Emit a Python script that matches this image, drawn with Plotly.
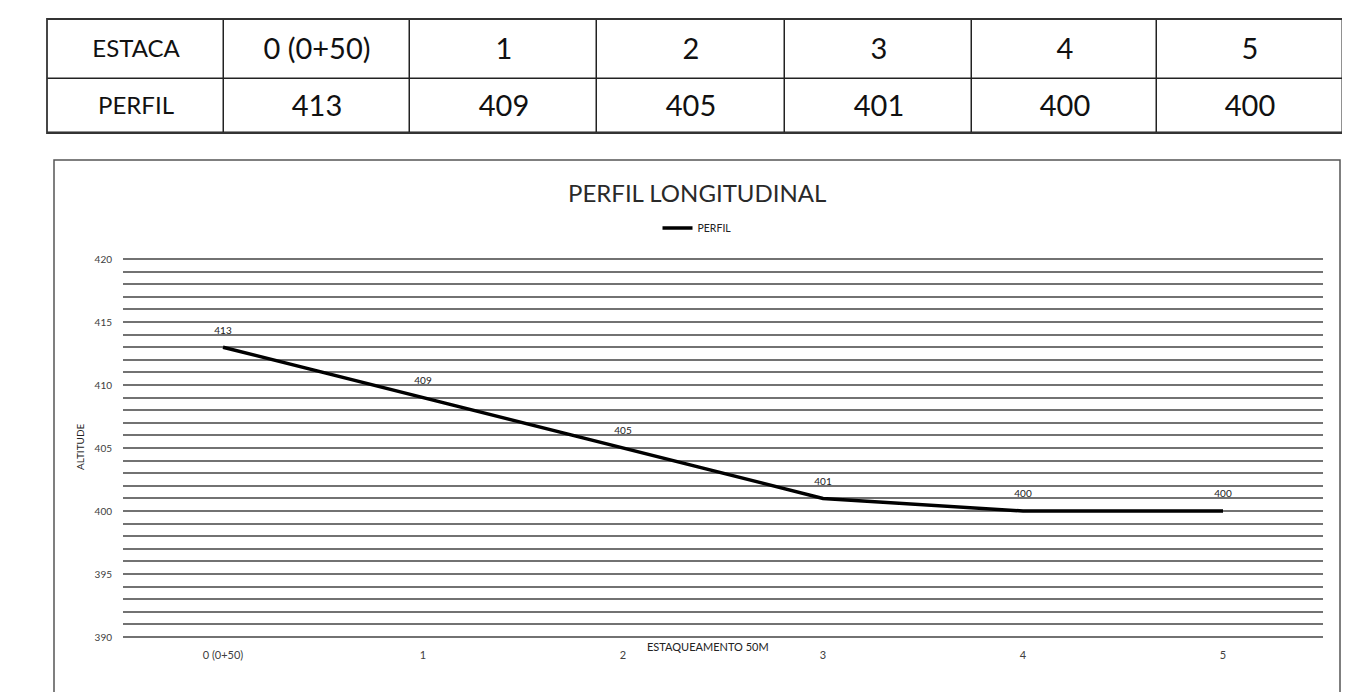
import plotly.graph_objects as go
import numpy as np

# ---- data ----
row_labels = ["ESTACA", "PERFIL"]
estacas = ["0 (0+50)", "1", "2", "3", "4", "5"]
perfil = [413, 409, 405, 401, 400, 400]
y_ticks = [390, 395, 400, 405, 410, 415, 420]

# ---- styling ----
col_widths = [177, 186, 187, 188, 187, 185, 186]
row_heights = [54, 60]  # bottom row (PERFIL), top row (ESTACA)

OFF = 8  # page body margin
W, H = 1350 - OFF, 692 - OFF
def px(x): return (x - OFF) / W
def py(y): return 1 - (y - OFF) / H

FONT = "Lato, Open Sans, sans-serif"

fig = go.Figure()

# ---- table built as heatmap cells ----
x_edges = np.concatenate([[0], np.cumsum(col_widths)])
y_edges = np.concatenate([[0], np.cumsum(row_heights)])

fig.add_trace(go.Heatmap(
    x=x_edges[:2], y=y_edges,
    z=[[0], [0]], text=[[row_labels[1]], [row_labels[0]]],
    texttemplate="%{text}", textfont=dict(size=24, color="#111111", family=FONT),
    colorscale=[[0, "white"], [1, "white"]], showscale=False,
    xgap=1.5, ygap=1.5, hoverinfo="skip",
    xaxis="x2", yaxis="y2",
))
fig.add_trace(go.Heatmap(
    x=x_edges[1:], y=y_edges,
    z=[[0] * len(estacas), [0] * len(estacas)],
    text=[[str(v) for v in perfil], estacas],
    texttemplate="%{text}", textfont=dict(size=29, color="#111111", family=FONT),
    colorscale=[[0, "white"], [1, "white"]], showscale=False,
    xgap=1.5, ygap=1.5, hoverinfo="skip",
    xaxis="x2", yaxis="y2",
))

# ---- profile line ----
xi = list(range(len(estacas)))
fig.add_trace(go.Scatter(
    x=xi, y=perfil, mode="lines+markers+text", name="PERFIL",
    line=dict(color="black", width=3.5),
    marker=dict(size=16, color="rgba(0,0,0,0)"),
    text=[str(v) for v in perfil], textposition="top center",
    textfont=dict(size=10, color="#222222", family=FONT),
    cliponaxis=False,
))

YR = [389.9, 420.1]
y_top_px = 259 - 0.1 * 12.6
y_bot_px = 637 + 0.1 * 12.6

fig.update_layout(
    width=W, height=H,
    margin=dict(l=0, r=0, t=0, b=0, pad=0, autoexpand=False),
    paper_bgcolor="white", plot_bgcolor="white",
    font=dict(family=FONT, color="#404040"),
    showlegend=True,
    legend=dict(x=px(697), y=py(228), xanchor="center", yanchor="middle",
                orientation="h", font=dict(size=10.5, color="#222222"),
                bgcolor="rgba(0,0,0,0)", itemwidth=30),
    xaxis=dict(domain=[px(123), px(1323)], range=[-0.5, 5.5], automargin=False,
               tickvals=xi, ticktext=estacas,
               showgrid=False, zeroline=False, showline=False,
               ticks="outside", ticklen=7, tickcolor="rgba(0,0,0,0)",
               tickfont=dict(size=11, color="#404040")),
    yaxis=dict(domain=[py(y_bot_px), py(y_top_px)], range=YR, automargin=False,
               tickvals=y_ticks, showgrid=True, gridcolor="#727272", gridwidth=1.7,
               zeroline=False, showline=False,
               ticks="outside", ticklen=8, tickcolor="rgba(0,0,0,0)",
               tickfont=dict(size=10, color="#404040"),
               minor=dict(dtick=1, tick0=390, showgrid=True, gridcolor="#727272", gridwidth=1.7)),
    xaxis2=dict(domain=[px(47), px(1343)], range=[0, x_edges[-1]], automargin=False,
                visible=False, fixedrange=True),
    yaxis2=dict(domain=[py(133), py(19)], range=[0, y_edges[-1]], automargin=False,
                visible=False, fixedrange=True),
    shapes=[
        dict(type="rect", xref="x2 domain", yref="y2 domain", x0=0, x1=1, y0=0, y1=1,
             fillcolor="#222222", line=dict(width=0), layer="below"),
        dict(type="rect", xref="x2 domain", yref="y2 domain", x0=0, x1=1, y0=0, y1=1,
             fillcolor="rgba(0,0,0,0)", line=dict(color="#333333", width=1.8), layer="above"),
        dict(type="rect", xref="paper", yref="paper",
             x0=px(54), x1=px(1340), y0=py(705), y1=py(160),
             line=dict(color="#555555", width=1.5), fillcolor="rgba(0,0,0,0)", layer="below"),
    ],
    annotations=[
        dict(text="PERFIL LONGITUDINAL", x=px(697), y=py(192), xref="paper", yref="paper",
             xanchor="center", yanchor="middle",
             showarrow=False, font=dict(size=24, color="#2a2a2a", family=FONT)),
        dict(text="ALTITUDE", x=px(80), y=py(447), xref="paper", yref="paper",
             xanchor="center", yanchor="middle",
             textangle=-90, showarrow=False, font=dict(size=10, color="#222222")),
        dict(text="ESTAQUEAMENTO 50M", x=px(708), y=py(646), xref="paper", yref="paper",
             xanchor="center", yanchor="middle",
             showarrow=False, font=dict(size=11, color="#222222")),
    ],
)

fig.write_html("out.html")
